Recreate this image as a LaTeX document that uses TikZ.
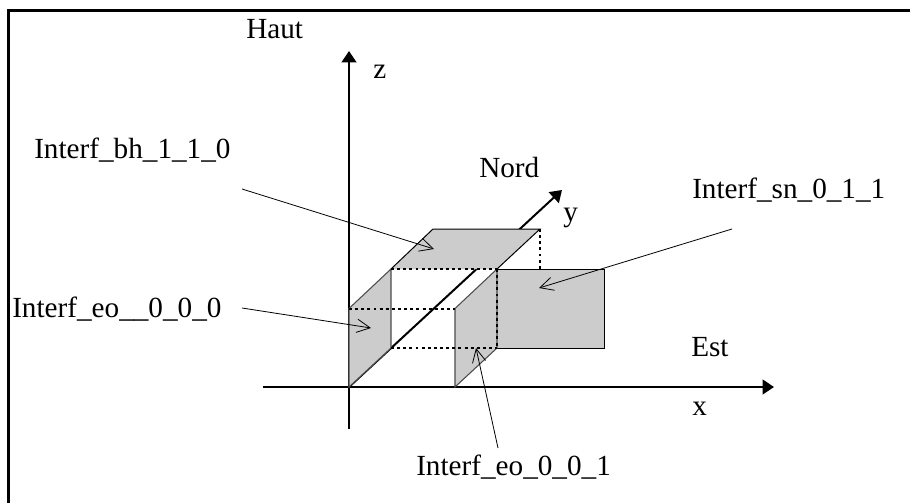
\documentclass[tikz,border=0pt]{standalone}
\usepackage{fontspec}
\setmainfont{Liberation Serif}
\usetikzlibrary{arrows.meta}
\begin{document}
\begin{tikzpicture}[x=0.75pt,y=-0.75pt,
  lbl/.style={inner sep=0pt,font=\fontsize{21.9pt}{24pt}\selectfont,anchor=base west},
  axis/.style={line width=1.5pt,-{Triangle[length=8.5pt,width=11pt]}},
  plate/.style={fill=black!20,draw=black!70,line width=0.8pt},
  dot/.style={line width=1.5pt,dash pattern=on 2.2pt off 2.4pt},
  lead/.style={line width=0.6pt,-{Straight Barb[length=10pt,width=10pt,line width=0.6pt]}}]
\useasboundingbox (0,0) rectangle (910,503);
\fill[white] (0,0) rectangle (910,503);
\coordinate (fa) at (8.4,503);
\coordinate (fb) at (8.4,10.6);
\coordinate (fc) at (910,10.6);
\draw[line width=2pt] (fa) -- (fb) -- (fc);
\coordinate (O) at (349,387);
\coordinate (zs) at (349,429);
\coordinate (zt) at (349,51);
\coordinate (xs) at (263,387);
\coordinate (xt) at (774,387);
\coordinate (yt) at (562,190);
\draw[axis] (zs) -- (zt);
\draw[axis] (xs) -- (xt);
\draw[axis] (O) -- (yt);
% plates
\coordinate (a1) at (433,229);
\coordinate (a2) at (540,229);
\coordinate (a3) at (497,269);
\coordinate (a4) at (391,269);
\coordinate (w1) at (349,308.5);
\coordinate (w2) at (391,348);
\coordinate (r1) at (455,308.5);
\coordinate (r2) at (497,348);
\coordinate (r3) at (455,387);
\coordinate (s1) at (604,269);
\coordinate (s2) at (604,348);
\coordinate (s3) at (540,269);
\fill[black!20] (a3) rectangle (s2);
\draw[line width=0.75pt] (a3) -- (s1) -- (s2) -- (r2);
\draw[plate] (O) -- (w1) -- (a4) -- (w2) -- cycle;
\draw[plate] (r3) -- (r1) -- (a3) -- (r2) -- cycle;
\fill[black!20] (a1) -- (a2) -- (a3) -- (a4) -- cycle;
\draw[line width=0.75pt] (a4) -- (a1) -- (a2) -- (a3);
\draw[dot] (a2) -- (s3);
\draw[dot] (a4) -- (a3);
\draw[dot] (w1) -- (r1);
\draw[dot] (w2) -- (r2);
\draw[dot] (a3) -- (r2);
% labels
\node[lbl] (haut) at (246,39) {Haut};
\node[lbl] (z) at (373,79) {z};
\node[lbl] (bh) at (34,158) {Interf\_bh\_1\_1\_0};
\node[lbl] (nord) at (479,177) {Nord};
\node[lbl] (y) at (563,221) {y};
\node[lbl] (sn) at (692,198) {Interf\_sn\_0\_1\_1};
\node[lbl] (eo0) at (12,317) {Interf\_eo\_\_0\_0\_0};
\node[lbl] (est) at (691,356) {Est};
\node[lbl] (x) at (692,415) {x};
\node[lbl] (eo1) at (416,475) {Interf\_eo\_0\_0\_1};
% leaders
\coordinate (l1s) at (242,189);
\coordinate (l1e) at (434,249);
\coordinate (l2s) at (732,229);
\coordinate (l2e) at (539,288);
\coordinate (l3s) at (242,308);
\coordinate (l3e) at (371,328);
\coordinate (l4s) at (498,448);
\coordinate (l4e) at (476,348);
\draw[lead] (l1s) -- (l1e);
\draw[lead] (l2s) -- (l2e);
\draw[lead] (l3s) -- (l3e);
\draw[lead] (l4s) -- (l4e);
\end{tikzpicture}
\end{document}
